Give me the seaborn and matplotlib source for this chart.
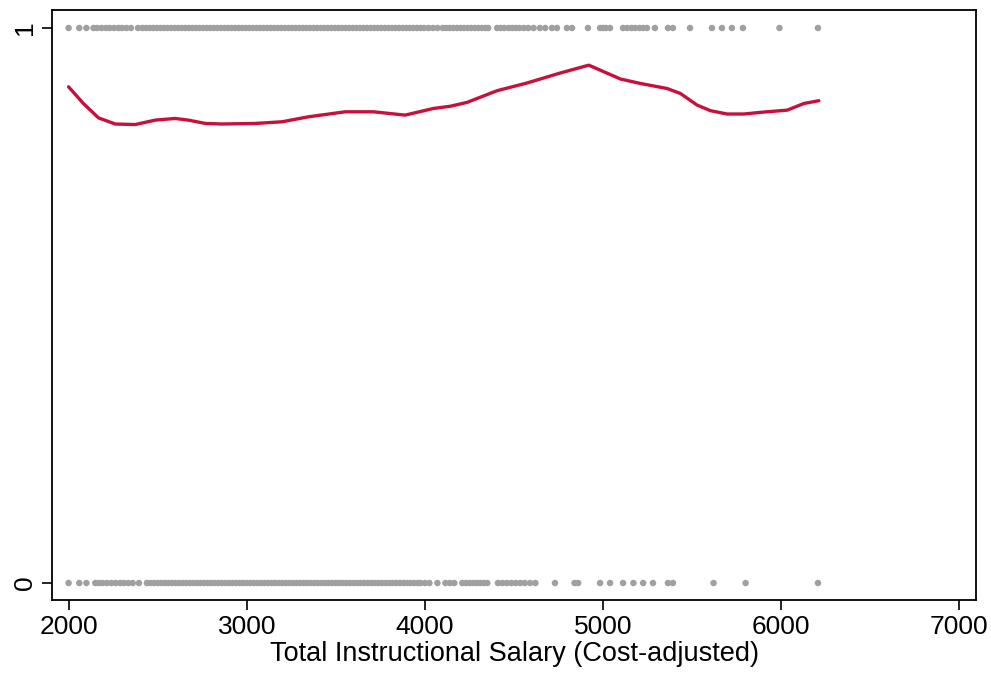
import numpy as np
import pandas as pd
import matplotlib
matplotlib.use("Agg")
import matplotlib.pyplot as plt
import seaborn as sns

# ---- data ----
salary_y1 = [2000, 2060, 2100, 2140, 2160, 2185, 2210, 2230, 2255, 2280, 2300, 2325, 2350, 2390,
             2415, 2435, 2455, 2475, 2495, 2515, 2535, 2555, 2575, 2595, 2615, 2635, 2655, 2675,
             2695, 2715, 2735, 2755, 2775, 2795, 2815, 2835, 2855, 2875, 2895, 2915, 2935, 2955,
             2975, 2995, 3015, 3035, 3055, 3075, 3095, 3115, 3135, 3155, 3175, 3195, 3215, 3235,
             3255, 3275, 3295, 3315, 3335, 3355, 3375, 3395, 3415, 3435, 3455, 3475, 3495, 3515,
             3535, 3555, 3575, 3595, 3615, 3635, 3655, 3675, 3695, 3715, 3735, 3755, 3775, 3795,
             3815, 3835, 3855, 3875, 3895, 3915, 3935, 3955, 3975, 3995, 4020, 4045, 4070, 4100,
             4120, 4140, 4160, 4180, 4200, 4220, 4240, 4260, 4280, 4300, 4320, 4340, 4355,
             4405, 4425, 4445, 4470, 4490, 4510, 4530, 4555, 4580, 4610, 4645, 4675, 4713, 4741,
             4797, 4826, 4915, 4983, 5000, 5015, 5039, 5112, 5135, 5160, 5180, 5205, 5225, 5246,
             5291, 5364, 5392, 5488, 5611, 5667, 5723, 5785, 5990, 6206]
salary_y0 = [2000, 2060, 2100, 2150, 2170, 2190, 2215, 2240, 2265, 2290, 2310, 2335, 2360, 2395,
             2440, 2460, 2480, 2500, 2520, 2540, 2560, 2580, 2600, 2620, 2640, 2660, 2680, 2700,
             2720, 2740, 2760, 2780, 2800, 2820, 2840, 2860, 2880, 2900, 2920, 2940, 2960, 2980,
             3000, 3020, 3040, 3060, 3080, 3100, 3120, 3140, 3160, 3180, 3200, 3220, 3240, 3260,
             3280, 3300, 3320, 3340, 3360, 3380, 3400, 3420, 3440, 3460, 3480, 3500, 3520, 3540,
             3560, 3580, 3600, 3620, 3640, 3660, 3680, 3700, 3720, 3740, 3760, 3780, 3800, 3820,
             3840, 3860, 3880, 3900, 3920, 3940, 3960, 3975, 4000, 4025, 4070, 4115, 4140, 4165,
             4210, 4230, 4250, 4270, 4290, 4310, 4330, 4350, 4410, 4435, 4460, 4485, 4510, 4535,
             4560, 4590, 4620, 4730, 4840, 4860, 4983, 5039, 5112, 5170, 5225, 5280, 5364, 5392,
             5620, 5800, 6206]

curve_x = [2000, 2083, 2168, 2262, 2374, 2486, 2598, 2673, 2767, 2860, 3048, 3198, 3347, 3553,
           3711, 3889, 4048, 4143, 4237, 4405, 4574, 4761, 4920, 5098, 5210, 5359, 5434, 5528,
           5603, 5696, 5790, 5884, 6034, 6127, 6211]
curve_y = [0.894, 0.864, 0.838, 0.827, 0.826, 0.834, 0.837, 0.834, 0.828, 0.827, 0.828, 0.831,
           0.840, 0.849, 0.849, 0.843, 0.855, 0.859, 0.866, 0.887, 0.901, 0.919, 0.933, 0.908,
           0.900, 0.891, 0.882, 0.861, 0.851, 0.845, 0.845, 0.848, 0.852, 0.864, 0.869]

x_ticks = [2000, 3000, 4000, 5000, 6000, 7000]
y_ticks = [0, 1]
x_label = "Total Instructional Salary (Cost-adjusted)"

dots = pd.DataFrame({
    "salary": salary_y1 + salary_y0,
    "outcome": [1] * len(salary_y1) + [0] * len(salary_y0),
})
curve = pd.DataFrame({"salary": curve_x, "fit": curve_y})

sns.set_theme(style="ticks")
plt.rcParams["font.family"] = ["Liberation Sans", "DejaVu Sans"]

fig = plt.figure(figsize=(9.91, 6.87), dpi=100)
ax = fig.add_axes([52 / 991, 1 - 600 / 687, (976 - 52) / 991, (600 - 10) / 687])

sns.scatterplot(data=dots, x="salary", y="outcome", ax=ax, color="#a0a0a0",
                s=22, edgecolor="none", linewidth=0, legend=False, zorder=2)
sns.lineplot(data=curve, x="salary", y="fit", ax=ax, color="#c8103a",
             linewidth=2.4, zorder=3, legend=False)

ax.set_xlim(1907, 7093)
ax.set_ylim(-0.0306, 1.0324)
ax.set_xticks(x_ticks)
ax.set_xticklabels([str(t) for t in x_ticks])
ax.set_yticks(y_ticks)
ax.set_yticklabels([str(t) for t in y_ticks], rotation=90, va="center")
ax.set_xlabel(x_label, fontsize=19.5, labelpad=1, color="black")
ax.set_ylabel("")
ax.tick_params(axis="both", direction="out", length=7, width=1.2, labelsize=19,
               colors="black", pad=4)
for sp in ax.spines.values():
    sp.set_visible(True)
    sp.set_color("black")
    sp.set_linewidth(1.3)
ax.grid(False)

fig.savefig("out.png", dpi=100, facecolor="white")
